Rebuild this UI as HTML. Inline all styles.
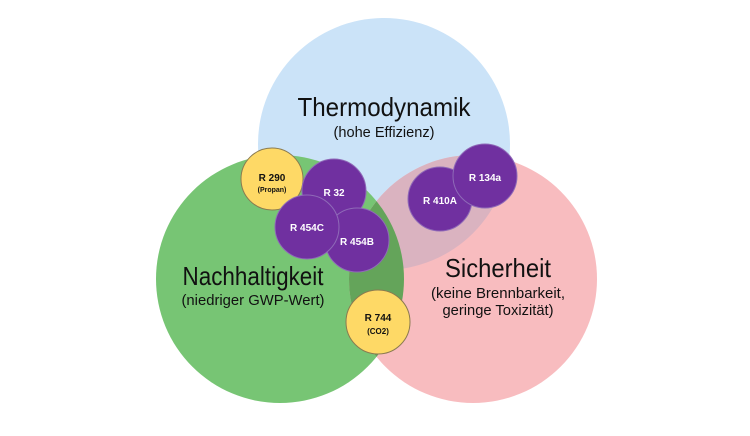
<!DOCTYPE html>
<html><head><meta charset="utf-8"><style>html,body{margin:0;padding:0;background:#fff}svg{display:block}</style></head>
<body>
<svg width="750" height="436" xmlns="http://www.w3.org/2000/svg" font-family="Liberation Sans, sans-serif">
<defs>
<clipPath id="cp"><circle cx="473" cy="279" r="124"/></clipPath>
</defs>
<circle cx="384" cy="144" r="126" fill="#cbe3f8"/>
<circle cx="280" cy="279" r="124" fill="#77c574"/>
<circle cx="473" cy="279" r="124" fill="#f8bcbf"/>
<g clip-path="url(#cp)">
<circle cx="384" cy="144" r="126" fill="#dab3c0"/>
<circle cx="280" cy="279" r="124" fill="#64a45a"/>
</g>
<g text-anchor="middle" fill="#111">
<text x="384" y="116" font-size="26" textLength="173" lengthAdjust="spacingAndGlyphs">Thermodynamik</text>
<text x="384" y="137" font-size="15" textLength="101" lengthAdjust="spacingAndGlyphs">(hohe Effizienz)</text>
<text x="253" y="285" font-size="26" textLength="141" lengthAdjust="spacingAndGlyphs">Nachhaltigkeit</text>
<text x="253" y="305" font-size="15" textLength="143" lengthAdjust="spacingAndGlyphs">(niedriger GWP-Wert)</text>
<text x="498" y="277" font-size="26" textLength="106" lengthAdjust="spacingAndGlyphs">Sicherheit</text>
<text x="498" y="298" font-size="15" textLength="134" lengthAdjust="spacingAndGlyphs">(keine Brennbarkeit,</text>
<text x="498" y="315" font-size="15" textLength="111" lengthAdjust="spacingAndGlyphs">geringe Toxizität)</text>
</g>
<g stroke-width="1">
<circle cx="272" cy="179" r="31" fill="#fed966" stroke="#8a7a50"/>
<circle cx="334" cy="191" r="32" fill="#7030a0" stroke="#8f6ab8"/>
<circle cx="357" cy="240" r="32" fill="#7030a0" stroke="#8f6ab8"/>
<circle cx="307" cy="227" r="32" fill="#7030a0" stroke="#8f6ab8"/>
<circle cx="440" cy="199" r="32" fill="#7030a0" stroke="#8f6ab8"/>
<circle cx="485" cy="176" r="32" fill="#7030a0" stroke="#8f6ab8"/>
<circle cx="378" cy="322" r="32" fill="#fed966" stroke="#8a7a50"/>
</g>
<g text-anchor="middle" font-weight="bold">
<text x="272" y="181" font-size="10" fill="#111">R 290</text>
<text x="272" y="192" font-size="7" fill="#111">(Propan)</text>
<text x="334" y="196" font-size="10" fill="#fff">R 32</text>
<text x="307" y="231" font-size="10" fill="#fff">R 454C</text>
<text x="357" y="245" font-size="10" fill="#fff">R 454B</text>
<text x="440" y="204" font-size="10" fill="#fff">R 410A</text>
<text x="485" y="181" font-size="10" fill="#fff">R 134a</text>
<text x="378" y="321" font-size="10" fill="#111">R 744</text>
<text x="378" y="334" font-size="8" fill="#111">(CO2)</text>
</g>
</svg>
</body></html>
